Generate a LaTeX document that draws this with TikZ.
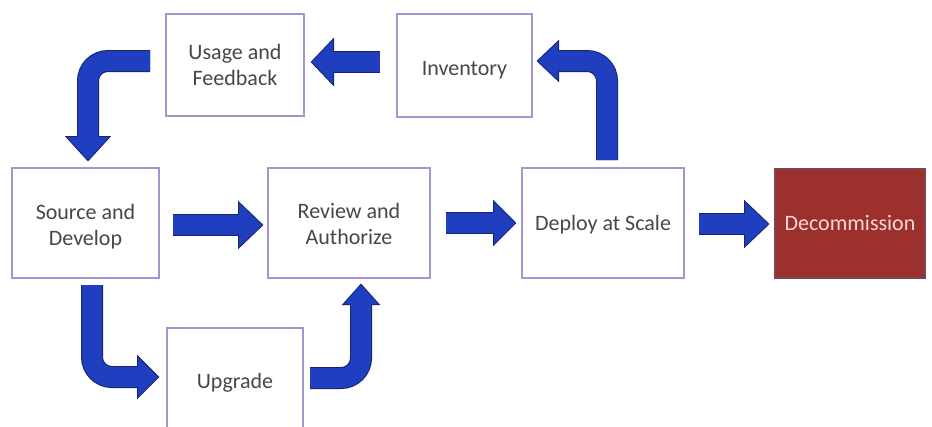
\documentclass[tikz,border=0pt]{standalone}
\usepackage{fontspec}
\setmainfont{Carlito}
\definecolor{arrowblue}{HTML}{1F3EC0}
\definecolor{arrowedge}{HTML}{14256E}
\definecolor{boxedge}{HTML}{A595CF}
\definecolor{txt}{HTML}{474747}
\definecolor{decfill}{HTML}{9C302C}
\definecolor{decedge}{HTML}{7A4450}
\definecolor{dectxt}{HTML}{F6D8D8}
\tikzset{
  stagebox/.style={draw=boxedge, line width=1.5pt, fill=white, align=center,
    text=txt, font=\fontsize{16.5pt}{19.5pt}\selectfont, inner sep=0pt},
  decbox/.style={draw=decedge, line width=1pt, fill=decfill, align=center,
    text=dectxt, font=\fontsize{16.5pt}{19.5pt}\selectfont, inner sep=0pt},
}
\newcommand\lowtext[2]{\raisebox{-#1}[\height][\depth]{\begin{tabular}{@{}c@{}}#2\end{tabular}}}
% #1 path, #2 tip coordinate, #3 angle, #4 head length, #5 head half width
\newcommand\blockarrow[5]{%
  \draw[arrowedge, line width=16.5pt, rounded corners=15pt] #1;
  \begin{scope}[shift={(#2)}, rotate=#3]
    \filldraw[arrowedge, line width=1.5pt, line join=miter] (0,0) -- (-#4,#5) -- (-#4,-#5) -- cycle;
  \end{scope}
  \draw[arrowblue, line width=15pt, rounded corners=15pt] #1;
  \begin{scope}[shift={(#2)}, rotate=#3]
    \fill[arrowblue] (0,0) -- (-#4,#5) -- (-#4,-#5) -- cycle;
  \end{scope}
}
\begin{document}
\begin{tikzpicture}[x=0.75pt, y=-0.75pt]
\clip (0,0) rectangle (932,426);
\fill[white] (0,0) rectangle (932,426);

% nodes
\node[stagebox, minimum width=103.5pt, minimum height=76.5pt] (use) at (235,65) {\lowtext{1.5pt}{Usage and\\Feedback}};
\node[stagebox, minimum width=101.25pt, minimum height=77.25pt] (inv) at (464.5,65.5) {\lowtext{3.5pt}{Inventory}};
\node[stagebox, minimum width=110.25pt, minimum height=82.5pt] (src) at (85.5,223) {\lowtext{3pt}{Source and\\Develop}};
\node[stagebox, minimum width=121.5pt, minimum height=82.5pt] (rev) at (349,223) {\lowtext{2.5pt}{Review and\\Authorize}};
\node[stagebox, minimum width=121.5pt, minimum height=82.5pt] (dep) at (603,223) {\lowtext{1.5pt}{Deploy at Scale}};
\node[decbox, minimum width=112.5pt, minimum height=81.75pt] (dec) at (850,223.5) {\lowtext{1.5pt}{Decommission}};
\node[stagebox, minimum width=102pt, minimum height=82.5pt] (upg) at (235,383) {Upgrade};

% connectors
\coordinate (t1) at (262,225);
\coordinate (t2) at (515,223);
\coordinate (t3) at (768,224);
\coordinate (t4) at (312,62);
\coordinate (t5) at (538,61);
\coordinate (t6) at (88,160);
\coordinate (t7) at (158,377);
\coordinate (t8) at (361,285);

\blockarrow{(173,225) -- (240,225)}{t1}{0}{23}{22}
\blockarrow{(446,223) -- (496,223)}{t2}{0}{21}{21}
\blockarrow{(699,224) -- (746,224)}{t3}{0}{23}{22}
\blockarrow{(380,62) -- (332,62)}{t4}{180}{21}{22}
\blockarrow{(607,160) |- (558,61)}{t5}{180}{20}{19}
\blockarrow{(150,61) -| (88,137)}{t6}{-90}{23}{21}
\blockarrow{(92,285) |- (139,377)}{t7}{0}{20}{20}
\blockarrow{(310,378) -| (361,304)}{t8}{90}{19}{17}
\end{tikzpicture}
\end{document}
